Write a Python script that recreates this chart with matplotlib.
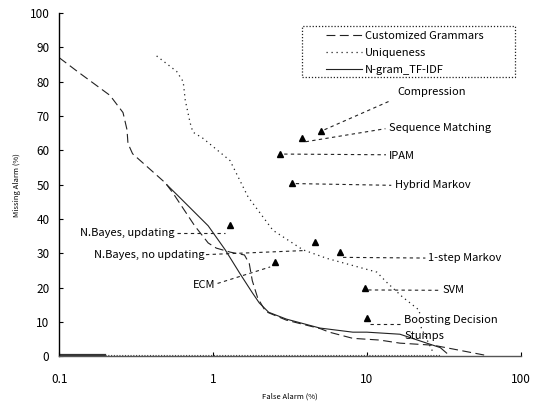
import matplotlib
matplotlib.use("Agg")
import matplotlib.pyplot as plt
from matplotlib.patches import Rectangle

plt.rcParams["font.family"] = ["Noto Sans CJK JP", "DejaVu Sans"]

# ROC-ish curves (False Alarm %, Missing Alarm %)
cg_x = [0.1, 0.133, 0.214, 0.26, 0.276, 0.28, 0.30, 0.49, 0.55, 0.76, 0.93, 1.05, 1.3, 1.6,
        1.72, 1.8, 1.95, 2.2, 3.0, 5.0, 5.7, 8.1, 12.1, 16.4, 27, 60]
cg_y = [87, 82.8, 76, 71, 66, 62, 59, 50.5, 47.5, 38, 33, 31.5, 30.3, 29.5,
        27, 22, 17, 13, 10.5, 8.0, 7.0, 5.2, 4.7, 3.8, 3.2, 0.2]

uq_x = [0.43, 0.58, 0.64, 0.66, 0.71, 0.74, 0.86, 1.29, 1.69, 2.45, 3.84, 5.5, 11.6, 13.4,
        17, 21.9, 22.6, 27]
uq_y = [87.5, 83, 80, 74.6, 68, 65.3, 63.5, 57, 46.4, 36.7, 31, 28.5, 24.5, 21.6,
        17.3, 13.4, 8.2, 1]

ng_x = [0.5, 0.6, 0.93, 1.2, 1.5, 1.8, 2.0, 2.3, 3.0, 4.95, 8.1, 10, 16.4, 24.5, 30, 33]
ng_y = [50, 46.5, 38, 31, 24, 18.5, 15.5, 12.8, 10.8, 8.2, 7.0, 7.0, 6.4, 3.8, 2.5, 0.9]

# single-point methods
pt_x = [5.0, 3.78, 2.72, 3.26, 1.29, 4.6, 6.68, 2.53, 9.7, 10.0]
pt_y = [65.6, 63.5, 58.9, 50.4, 38.2, 33.3, 30.3, 27.4, 19.8, 11.0]

# annotations: label, text position, leader start, leader end, alignment
labels = ["Compression", "Sequence Matching", "IPAM", "Hybrid Markov",
          "N.Bayes, updating", "N.Bayes, no updating", "ECM", "1-step Markov",
          "SVM", "Boosting Decision\nStumps"]
text_xy = [(15.9, 77), (13.9, 66.5), (13.9, 58.3), (15.2, 49.8),
           (0.565, 36), (0.88, 29.4), (1.04, 20.7), (24.9, 28.5),
           (31, 19.2), (17.5, 8.2)]
text_ha = ["left", "left", "left", "left", "right", "right", "right", "left", "left", "left"]
lead_from = [(5.3, 66), (4.0, 62.5), (2.9, 58.9), (3.45, 50.3),
             (0.58, 36), (0.9, 29.6), (1.07, 21.2), (7.0, 28.8),
             (10.2, 19.3), (10.5, 9.5)]
lead_to = [(14.3, 74.5), (13.2, 66.3), (13.3, 58.7), (14.4, 49.8),
           (1.2, 36), (4.0, 30.8), (2.35, 26.0), (24.0, 28.6),
           (29.5, 19.2), (16.8, 9.5)]

fig = plt.figure(figsize=(5.33, 4.08), dpi=100)
ax = fig.add_axes([0.111, 0.127, 0.866, 0.841])

ax.plot(cg_x, cg_y, color="#222222", lw=0.8, linestyle=(0, (8, 4)), label="Customized Grammars")
ax.plot(uq_x, uq_y, color="#222222", lw=0.9, linestyle=(0, (1, 3)), label="Uniqueness")
ax.plot(ng_x, ng_y, color="#222222", lw=0.8, label="N-gram_TF-IDF")
ax.plot([0.1, 0.2], [0.25, 0.25], color="#333333", lw=1.6)
ax.plot([0.2, 30], [0.2, 0.2], color="#444444", lw=0.8, linestyle=(0, (1, 1.5)))

ax.plot(pt_x, pt_y, linestyle="none", marker="^", color="black", markersize=5)

for lab, (tx, ty), (x0, y0), (x1, y1), ha in zip(labels, text_xy, lead_from, lead_to, text_ha):
    ax.plot([x0, x1], [y0, y1], color="#222222", lw=0.8, linestyle=(0, (3, 3)))
    ax.text(tx, ty, lab, fontsize=8, ha=ha, va="center", linespacing=1.75)

ax.set_xscale("log")
ax.set_xlim(0.1, 100)
ax.set_ylim(0, 100)
ax.set_yticks(range(0, 101, 10))
ax.set_xticks([0.1, 1, 10, 100])
ax.set_xticklabels(["0.1", "1", "10", "100"])
ax.minorticks_off()
ax.tick_params(axis="y", direction="in", length=3, labelsize=8.5, pad=7)
ax.tick_params(axis="x", direction="in", length=3, labelsize=8.5, pad=12)
for s in ["top", "right"]:
    ax.spines[s].set_visible(False)
ax.spines["left"].set_linewidth(1.0)
ax.spines["bottom"].set_linewidth(1.0)
ax.spines["bottom"].set_color("#555555")

ax.set_xlabel("False Alarm (%)", fontsize=5.5, labelpad=5)
ax.set_ylabel("Missing Alarm (%)", fontsize=5.5, labelpad=6)

# legend: dotted box drawn separately so its padding matches
ax.add_patch(Rectangle((0.526, 0.813), 0.461, 0.149, transform=ax.transAxes,
                       fill=False, edgecolor="#222222", lw=0.9,
                       linestyle=(0, (1, 1.5)), zorder=5))
ax.legend(loc="upper left", bbox_to_anchor=(0.578, 0.948), fontsize=8,
          frameon=False, handlelength=3.2, borderpad=0, borderaxespad=0,
          labelspacing=0.62, handletextpad=0.3)

fig.savefig("out.png", dpi=100)
